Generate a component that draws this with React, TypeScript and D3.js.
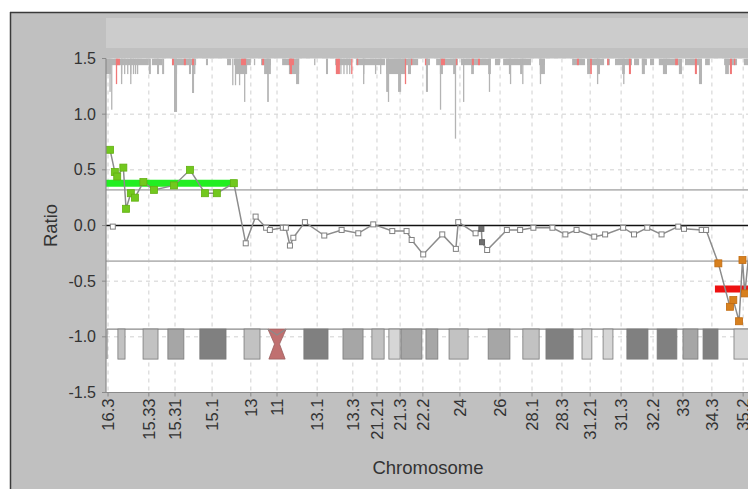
import React from 'react';
import * as d3 from 'd3';

// ---- data ----
const tickLabels = ['16.3', '15.33', '15.31', '15.1', '13', '11', '13.1', '13.3', '21.21', '21.3', '22.2', '24', '26', '28.1', '28.3', '31.21', '31.3', '32.2', '33', '34.3', '35.2'];
const tickPos = [0.6, 12.6, 20.3, 31.2, 42.6, 50.3, 62.1, 72.6, 79.7, 86.5, 93.2, 104.1, 115.9, 125.3, 134.1, 142.4, 151.5, 160.9, 169.7, 178.2, 187.4];
const yTicks = [1.5, 1.0, 0.5, 0.0, -0.5, -1.0, -1.5];

// probes: position (Mb), log ratio, kind (g=gain, o=loss, n=normal, d=dark)
const probePos = [1.2, 2.6, 3.3, 5.1, 5.9, 7.3, 8.5, 11.0, 14.1, 20.0, 24.7, 29.1, 32.6, 37.6,
  41.1, 44.0, 47.1, 48.2, 52.0, 52.9, 54.1, 55.1, 58.5, 64.2, 69.3, 74.2, 78.6, 84.2, 88.4, 89.9, 93.3, 98.9, 102.9, 103.6, 108.7, 110.4, 110.6, 112.1,
  117.9, 121.8, 125.7, 131.3, 135.1, 138.4, 143.6, 146.8, 152.1, 155.3, 159.2, 163.4, 168.3, 170.0, 175.2, 176.5,
  180.1, 183.5, 184.5, 186.2, 187.2, 187.9, 189.8];
const probeRatio = [0.68, 0.48, 0.44, 0.52, 0.15, 0.29, 0.25, 0.39, 0.32, 0.36, 0.50, 0.29, 0.29, 0.38,
  -0.16, 0.08, -0.02, -0.04, -0.02, -0.02, -0.18, -0.11, 0.03, -0.09, -0.04, -0.07, 0.01, -0.05, -0.05, -0.13, -0.26, -0.08, -0.21, 0.03, -0.07, -0.03, -0.15, -0.22,
  -0.04, -0.04, -0.02, -0.02, -0.08, -0.04, -0.10, -0.08, -0.02, -0.08, -0.02, -0.08, -0.01, -0.03, -0.04, -0.04,
  -0.34, -0.73, -0.67, -0.86, -0.31, -0.61, -0.03];
const probeKind = 'gggggggggggggg' + 'nnnnnnnnnnnnnnnnnnnnnddn' + 'nnnnnnnnnnnnnnnn' + 'oooooon';
const loosePos = [2.0];
const looseRatio = [-0.01];

// segments
const segStart = [0, 179.1];
const segEnd = [38.2, 191];
const segValue = [0.38, -0.57];
const segKind = ['gain', 'loss'];
const thresholds = [0.32, -0.32];

// top frequency track: [start Mb, end Mb, bottom ratio]
const trackGray: [number, number, number][] = [
  [0, 12.6, 1.44], [13.5, 16.5, 1.44], [19.4, 26.5, 1.44], [29.4, 30.0, 1.44], [35.6, 36.8, 1.44], [37.6, 42.6, 1.44],
  [43.5, 43.8, 1.44], [45.6, 48.5, 1.44], [51.8, 56.8, 1.44], [61.2, 61.5, 1.44], [64.7, 65.3, 1.44], [67.4, 72.1, 1.44],
  [73.5, 82.1, 1.44], [83.5, 91.8, 1.44], [93.8, 95.3, 1.44], [97.1, 103.5, 1.44], [104.4, 113.2, 1.44], [114.4, 115.9, 1.44],
  [116.8, 125.0, 1.44], [127.4, 129.1, 1.44], [137.1, 140.9, 1.44], [141.5, 146.5, 1.44], [147.4, 148.2, 1.44],
  [149.7, 154.7, 1.44], [155.3, 156.8, 1.44], [157.6, 159.1, 1.44], [160.0, 161.2, 1.44], [162.6, 168.5, 1.44],
  [170.3, 174.4, 1.44], [176.2, 177.6, 1.44], [181.8, 185.6, 1.44], [187.6, 191, 1.44],
  [0, 1.5, 1.36], [4.4, 4.4, 1.36], [5.3, 5.3, 1.36], [6.2, 6.2, 1.36], [7.1, 7.1, 1.36], [7.9, 7.9, 1.36], [8.5, 8.5, 1.36],
  [9.1, 9.1, 1.36], [12.6, 13.2, 1.36], [15.0, 15.6, 1.36], [16.5, 17.1, 1.36], [20.0, 20.9, 1.36], [24.4, 25.0, 1.36],
  [25.9, 25.9, 1.36], [38.2, 41.5, 1.36], [46.5, 48.5, 1.36], [53.8, 56.8, 1.36], [64.7, 65.3, 1.36], [68.9, 68.9, 1.36],
  [69.8, 69.8, 1.36], [70.7, 70.7, 1.36], [71.5, 71.5, 1.36], [75.6, 75.6, 1.36], [79.1, 79.1, 1.36], [80.6, 80.6, 1.36],
  [82.4, 88.0, 1.36], [88.8, 89.7, 1.36], [94.1, 94.7, 1.36], [98.2, 99.1, 1.36], [102.1, 102.9, 1.36], [107.4, 108.2, 1.36],
  [112.4, 113.2, 1.36], [118.5, 119.1, 1.36], [121.8, 122.4, 1.36], [127.6, 129.1, 1.36], [141.5, 142.4, 1.36],
  [144.4, 145.3, 1.36], [151.8, 152.6, 1.36], [157.6, 158.5, 1.36], [163.8, 165.0, 1.36], [168.5, 169.4, 1.36],
  [182.1, 183.2, 1.36],
  [1.5, 1.5, 1.04], [1.0, 1.0, 1.20], [4.4, 4.4, 1.27], [7.1, 7.1, 1.27], [20.0, 20.9, 1.02], [25.3, 25.9, 1.19],
  [37.1, 37.1, 1.26], [37.9, 37.9, 1.26], [39.1, 39.1, 1.26], [40.6, 40.9, 1.11], [47.4, 47.9, 1.11], [55.9, 56.8, 1.27],
  [75.6, 75.9, 1.27], [82.4, 83.2, 1.20], [82.9, 82.9, 1.11], [85.9, 86.8, 1.20], [94.1, 94.7, 1.20], [98.2, 98.5, 1.04],
  [102.6, 102.9, 0.78], [105.0, 105.3, 1.11], [112.6, 112.9, 1.20], [118.8, 119.1, 1.27], [122.4, 122.6, 1.27],
  [127.6, 127.9, 1.27], [144.4, 144.7, 1.27], [152.1, 152.4, 1.27], [174.4, 175.3, 1.27],
];
const trackRed: [number, number, number][] = [
  [3.2, 4.1, 1.44], [2.9, 2.9, 1.27], [19.4, 20.0, 1.44], [22.9, 23.5, 1.44], [25.3, 25.9, 1.44], [39.7, 41.2, 1.44],
  [45.9, 46.5, 1.44], [53.8, 55.3, 1.44], [54.1, 54.7, 1.36], [67.6, 68.8, 1.36], [72.1, 72.1, 1.36], [73.8, 73.8, 1.44],
  [87.9, 88.2, 1.27], [89.7, 89.7, 1.44], [93.8, 94.1, 1.44], [98.5, 99.7, 1.44], [102.9, 102.9, 1.44], [107.6, 108.2, 1.44],
  [109.4, 110.0, 1.44], [138.5, 139.1, 1.44], [142.4, 142.9, 1.36], [147.4, 147.9, 1.44], [153.8, 154.4, 1.36],
  [167.4, 168.2, 1.44], [173.2, 173.8, 1.36], [183.5, 184.1, 1.36], [184.7, 185.0, 1.44],
];

// ideogram bands: start, end, stain level (1 very light .. 4 dark)
const bandStart = [3.5, 10.9, 18.2, 27.6, 40.6, 58.2, 69.7, 78.2, 83.2, 86.8, 94.1, 100.9, 112.4, 122.6, 129.4, 140.0, 146.2, 153.2, 162.1, 169.7, 175.6, 184.7];
const bandEnd = [5.6, 15.3, 22.9, 35.3, 45.3, 65.3, 75.6, 81.8, 86.5, 92.9, 97.6, 106.5, 118.8, 127.4, 137.4, 142.9, 149.1, 159.4, 167.9, 174.1, 180.0, 191];
const bandStain = [2, 2, 3, 4, 2, 4, 3, 2, 1, 3, 3, 2, 3, 2, 4, 1, 1, 4, 4, 3, 4, 1];
const centromere = [48.2, 52.4];

const W = 748;
const H = 489;
const FONT = '"Liberation Sans", Arial, sans-serif';

export default function App() {
  const x = d3.scaleLinear().domain([0, 191]).range([106, 755.4]);
  const y = d3.scaleLinear().domain([-1.5, 1.5]).range([392.5, 58.5]);
  const left = x(0);
  const right = W;
  const top = y(1.5);
  const bottom = y(-1.5);
  const ideoTop = y(-0.93);
  const ideoBot = y(-1.2);
  const stainColor = ['#ffffff', '#d6d6d6', '#c2c2c2', '#a6a6a6', '#808080'];

  const pts = probePos.map((p, i) => ({ p, r: probeRatio[i], k: probeKind[i] }));
  const line = d3.line<{ p: number; r: number }>().x(d => x(d.p)).y(d => y(d.r));

  const barW = (a: number, b: number) => Math.max(1.3, x(b) - x(a));
  const cx0 = x(centromere[0]);
  const cx1 = x(centromere[1]);
  const cxm = (cx0 + cx1) / 2;
  const cym = (ideoTop + ideoBot) / 2;

  return (
    <svg width={W} height={H} style={{ position: 'absolute', left: 0, top: 0, display: 'block' }} fontFamily={FONT}>
      <defs>
        <clipPath id="plotClip">
          <rect x={left} y={top} width={right - left} height={bottom - top} />
        </clipPath>
      </defs>
      <rect x={0} y={0} width={W} height={H} fill="#ffffff" />
      <rect x={10} y={12} width={W - 10} height={H - 12} fill="#c0c0c0" />
      <line x1={10.5} y1={12} x2={10.5} y2={H} stroke="#3a3a3a" strokeWidth={1.5} />
      <line x1={10} y1={12.5} x2={W} y2={12.5} stroke="#3a3a3a" strokeWidth={1.5} />
      <rect x={left} y={18} width={W - left} height={30} fill="#cccccc" />
      <rect x={left} y={top} width={right - left} height={bottom - top} fill="#ffffff" />

      <g clipPath="url(#plotClip)">
        {/* grid */}
        {yTicks.map(t => (
          <line key={'gy' + t} x1={left} x2={right} y1={y(t)} y2={y(t)} stroke="#d0d0d0" strokeDasharray="4,4" />
        ))}
        {tickPos.map((t, i) => (
          <line key={'gx' + i} x1={x(t)} x2={x(t)} y1={top} y2={bottom} stroke="#d0d0d0" strokeDasharray="4,4" />
        ))}

        {/* top frequency track */}
        {trackGray.map((b, i) => (
          <rect key={'tg' + i} x={x(b[0])} y={top} width={barW(b[0], b[1])} height={y(b[2]) - top} fill="#b4b4b4" />
        ))}
        {trackRed.map((b, i) => (
          <rect key={'tr' + i} x={x(b[0])} y={top} width={barW(b[0], b[1])} height={y(b[2]) - top} fill="#f07878" />
        ))}

        {/* ideogram */}
        <line x1={x(0.3)} x2={cx0 - 2} y1={ideoTop} y2={ideoTop} stroke="#8a8a8a" strokeWidth={1.2} />
        <line x1={cx1 + 2} x2={right} y1={ideoTop} y2={ideoTop} stroke="#8a8a8a" strokeWidth={1.2} />
        <line x1={x(0.3)} x2={x(0.3)} y1={ideoTop} y2={ideoBot} stroke="#8a8a8a" strokeWidth={1.2} />
        {bandStart.map((s, i) => (
          <rect key={'bd' + i} x={x(s)} y={ideoTop} width={x(bandEnd[i]) - x(s)} height={ideoBot - ideoTop}
            fill={stainColor[bandStain[i]]} stroke="#7a7a7a" strokeWidth={0.8} />
        ))}
        <path d={`M${cx0 - 2},${ideoTop} L${cxm - 2.5},${cym} L${cx0 - 1},${ideoBot} L${cx1 + 1},${ideoBot} L${cxm + 2.5},${cym} L${cx1 + 2},${ideoTop} Z`}
          fill="#c07070" stroke="#9a6060" strokeWidth={0.8} />
        <path d={`M${cx0 - 2},${ideoTop} L${cxm},${ideoTop + 6} L${cx1 + 2},${ideoTop}`} fill="none" stroke="#8a8a8a" strokeWidth={1.2} />

        {/* thresholds and zero */}
        {thresholds.map(t => (
          <line key={'th' + t} x1={left} x2={right} y1={y(t)} y2={y(t)} stroke="#b8b8b8" strokeWidth={1.6} />
        ))}
        <line x1={left} x2={right} y1={y(0)} y2={y(0)} stroke="#111111" strokeWidth={1.6} />

        {/* segments */}
        {segStart.map((s, i) => (
          <line key={'sg' + i} x1={x(s)} x2={x(segEnd[i])} y1={y(segValue[i])} y2={y(segValue[i])}
            stroke={segKind[i] === 'gain' ? '#22ee22' : '#ee1111'} strokeWidth={7} />
        ))}

        {/* probes */}
        <path d={line(pts) || ''} fill="none" stroke="#8c8c8c" strokeWidth={1.5} />
        {loosePos.map((p, i) => (
          <rect key={'lp' + i} x={x(p) - 2.5} y={y(looseRatio[i]) - 2.5} width={5} height={5} fill="#ffffff" stroke="#808080" strokeWidth={1} />
        ))}
        {pts.map((d, i) => {
          if (d.k === 'g') return <rect key={'p' + i} x={x(d.p) - 3.5} y={y(d.r) - 3.5} width={7} height={7} fill="#72c81e" stroke="#62b010" strokeWidth={0.8} />;
          if (d.k === 'o') return <rect key={'p' + i} x={x(d.p) - 3.5} y={y(d.r) - 3.5} width={7} height={7} fill="#d7801e" stroke="#c06a10" strokeWidth={0.8} />;
          if (d.k === 'd') return <rect key={'p' + i} x={x(d.p) - 2.5} y={y(d.r) - 2.5} width={5} height={5} fill="#707070" stroke="#606060" strokeWidth={1} />;
          return <rect key={'p' + i} x={x(d.p) - 2.5} y={y(d.r) - 2.5} width={5} height={5} fill="#ffffff" stroke="#808080" strokeWidth={1} />;
        })}
      </g>

      {/* axes */}
      <line x1={left} x2={left} y1={top} y2={bottom} stroke="#8a8a8a" strokeWidth={1.2} />
      <line x1={left} x2={right} y1={bottom} y2={bottom} stroke="#8a8a8a" strokeWidth={1.2} />
      {yTicks.map(t => (
        <g key={'yt' + t}>
          <line x1={left - 4} x2={left} y1={y(t)} y2={y(t)} stroke="#8a8a8a" />
          <text x={96} y={y(t)} textAnchor="end" dominantBaseline="central" fontSize={16} fill="#333333">{t.toFixed(1)}</text>
        </g>
      ))}
      {tickPos.map((t, i) => (
        <g key={'xt' + i}>
          <line x1={x(t)} x2={x(t)} y1={bottom} y2={bottom + 4} stroke="#8a8a8a" />
          <text transform={`translate(${x(t)},${bottom + 6}) rotate(-90)`} textAnchor="end" dominantBaseline="central" fontSize={16.5} fill="#333333">{tickLabels[i]}</text>
        </g>
      ))}
      <text transform={`translate(50,${y(0)}) rotate(-90)`} textAnchor="middle" dominantBaseline="central" fontSize={18.5} fill="#333333">Ratio</text>
      <text x={428} y={467} textAnchor="middle" dominantBaseline="central" fontSize={18.5} fill="#333333">Chromosome</text>
    </svg>
  );
}
